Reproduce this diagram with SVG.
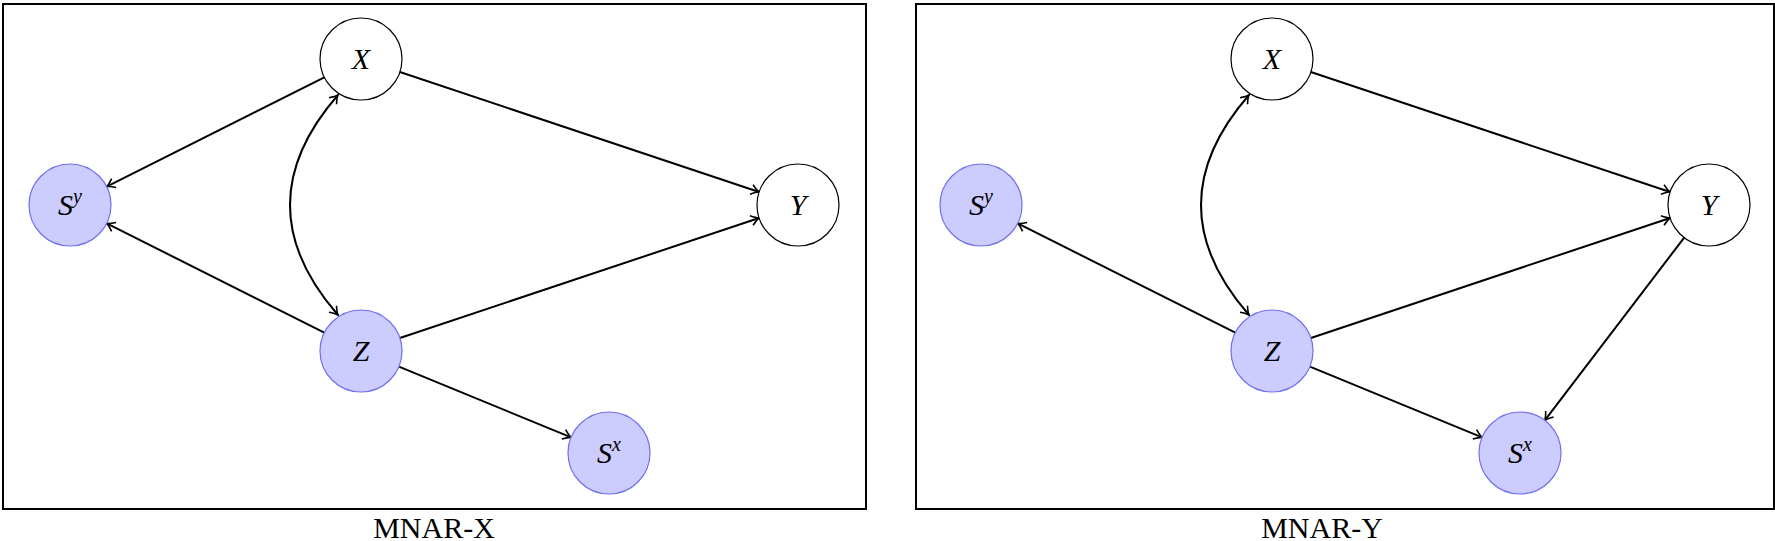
<svg xmlns="http://www.w3.org/2000/svg" width="1775" height="541" viewBox="0 0 1775 541">
<style>
.box{fill:none;stroke:#000;stroke-width:2}
.n{fill:#fff;stroke:#000;stroke-width:1.2}
.b{fill:#ccccff;stroke:#6f6ff0;stroke-width:1.2}
.t{font-family:"Liberation Serif",serif;font-style:italic;font-size:30px;text-anchor:middle}
.s{font-size:20px}
.e{fill:none;stroke:#000;stroke-width:2;marker-end:url(#a)}
.cap{font-family:"Liberation Serif",serif;font-size:30px;text-anchor:middle}
</style>
<defs>
<marker id="a" viewBox="-10 -6 12 12" refX="0" refY="0" markerWidth="12" markerHeight="12" markerUnits="userSpaceOnUse" orient="auto-start-reverse">
<path d="M-8,-5 Q-3,-1 0,0 Q-3,1 -8,5" fill="none" stroke="#000" stroke-width="1.6"/>
</marker>
</defs>
<rect class="box" x="3" y="4" width="863" height="505"/>
<rect class="box" x="916" y="4" width="858" height="505"/>
<text class="cap" x="434" y="538">MNAR-X</text>
<text class="cap" x="1322" y="538">MNAR-Y</text>
<g id="connectors">
<line class="e" x1="324.3" y1="77.4" x2="106.7" y2="186.6"/>
<line class="e" x1="324.3" y1="332.6" x2="106.7" y2="223.4"/>
<line class="e" x1="399.9" y1="72" x2="759.1" y2="192"/>
<line class="e" x1="399.9" y1="338" x2="759.1" y2="218"/>
<line class="e" x1="398.9" y1="366.6" x2="571.1" y2="437.4"/>
<path class="e" style="marker-start:url(#a)" d="M338,95 Q242,205 338,315"/>
<line class="e" x1="1235.3" y1="332.6" x2="1017.7" y2="223.4"/>
<line class="e" x1="1310.9" y1="72" x2="1670.1" y2="192"/>
<line class="e" x1="1310.9" y1="338" x2="1670.1" y2="218"/>
<line class="e" x1="1309.9" y1="366.6" x2="1482.1" y2="437.4"/>
<line class="e" x1="1684.2" y1="237.6" x2="1544.8" y2="420.4"/>
<path class="e" style="marker-start:url(#a)" d="M1249,95 Q1153,205 1249,315"/>
</g>
<g id="L-X"><circle class="n" cx="361" cy="59" r="41"/><text class="t" x="361" y="69">X</text></g>
<g id="L-Sy"><circle class="b" cx="70" cy="205" r="41"/><text class="t" x="70" y="215">S<tspan class="s" dy="-12">y</tspan></text></g>
<g id="L-Y"><circle class="n" cx="798" cy="205" r="41"/><text class="t" x="798" y="215">Y</text></g>
<g id="L-Z"><circle class="b" cx="361" cy="351" r="41"/><text class="t" x="361" y="361">Z</text></g>
<g id="L-Sx"><circle class="b" cx="609" cy="453" r="41"/><text class="t" x="609" y="463">S<tspan class="s" dy="-12">x</tspan></text></g>
<g id="R-X"><circle class="n" cx="1272" cy="59" r="41"/><text class="t" x="1272" y="69">X</text></g>
<g id="R-Sy"><circle class="b" cx="981" cy="205" r="41"/><text class="t" x="981" y="215">S<tspan class="s" dy="-12">y</tspan></text></g>
<g id="R-Y"><circle class="n" cx="1709" cy="205" r="41"/><text class="t" x="1709" y="215">Y</text></g>
<g id="R-Z"><circle class="b" cx="1272" cy="351" r="41"/><text class="t" x="1272" y="361">Z</text></g>
<g id="R-Sx"><circle class="b" cx="1520" cy="453" r="41"/><text class="t" x="1520" y="463">S<tspan class="s" dy="-12">x</tspan></text></g>
</svg>
